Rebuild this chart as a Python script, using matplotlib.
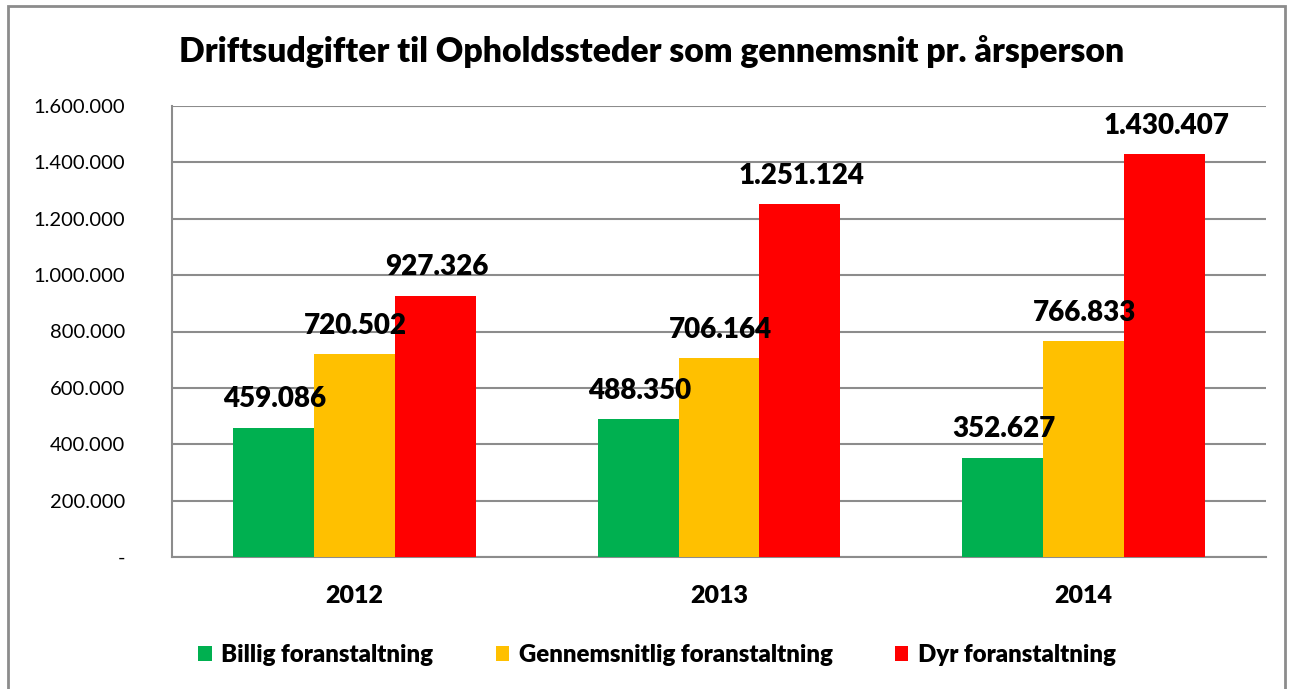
import matplotlib
matplotlib.use("Agg")
import matplotlib.pyplot as plt
import numpy as np
from matplotlib.patches import Rectangle

years = ["2012", "2013", "2014"]
series_names = ["Billig foranstaltning", "Gennemsnitlig foranstaltning", "Dyr foranstaltning"]
billig = [459086, 488350, 352627]
gennemsnit = [720502, 706164, 766833]
dyr = [927326, 1251124, 1430407]
colors = ["#00B050", "#FFC000", "#FF0000"]
yticks = [0, 200000, 400000, 600000, 800000, 1000000, 1200000, 1400000, 1600000]

def fmt(v):
    return f"{v:,.0f}".replace(",", ".")

plt.rcParams['font.family'] = ['Lato', 'DejaVu Sans']
BW = "heavy"

W, H = 1290, 689
fig = plt.figure(figsize=(W / 100, H / 100), dpi=100)
ax = fig.add_axes([172 / W, 1 - 557 / H, (1266 - 172) / W, (557 - 106) / H])

x = np.arange(len(years))
bw = 0.222
data = [billig, gennemsnit, dyr]
for i, (vals, c, name) in enumerate(zip(data, colors, series_names)):
    pos = x + (i - 1) * bw
    ax.bar(pos, vals, width=bw, color=c, label=name, zorder=3)
    for p, v in zip(pos, vals):
        ax.annotate(fmt(v), (p, v), xytext=(1, 11), textcoords="offset points",
                    ha="center", va="bottom", fontsize=20, fontweight=BW, zorder=4)

ax.set_xlim(-0.5, 2.5)
ax.set_ylim(0, 1600000)
ax.set_yticks(yticks)
ax.set_yticklabels(["-" if v == 0 else fmt(v) for v in yticks], fontsize=14.5)
ax.set_xticks(x)
ax.set_xticklabels(years, fontsize=18, fontweight=BW)
ax.tick_params(axis="y", length=0, pad=34)
ax.tick_params(axis="x", length=0, pad=20)
ax.grid(axis="y", color="#8c8c8c", linewidth=1.5, zorder=0)
for s in ["top", "right"]:
    ax.spines[s].set_visible(False)
for s in ["left", "bottom"]:
    ax.spines[s].set_color("#8c8c8c")
    ax.spines[s].set_linewidth(1.5)

fig.text(652 / W, 1 - 52 / H, "Driftsudgifter til Opholdssteder som gennemsnit pr. årsperson",
         ha="center", va="center", fontsize=24.3, fontweight=BW)

leg = fig.legend(loc="center", bbox_to_anchor=(657 / W, 1 - 655 / H), ncol=3, frameon=False,
                 prop={"size": 17.3, "weight": BW}, handlelength=0.55, handleheight=0.55,
                 handletextpad=0.4, columnspacing=2.6)

fig.patches.append(Rectangle((8 / W, -0.05), (1285 - 8) / W, 1.05 - 6 / H,
                             transform=fig.transFigure, fill=False,
                             edgecolor="#8c8c8c", linewidth=2))

fig.savefig("out.png", dpi=100)
